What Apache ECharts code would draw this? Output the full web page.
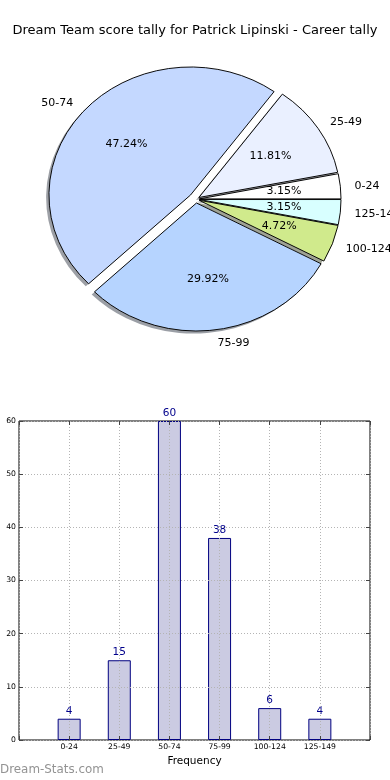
<!DOCTYPE html>
<html>
<head>
<meta charset="utf-8">
<script src="https://cdn.jsdelivr.net/npm/echarts@6/dist/echarts.min.js"></script>
<style>
html,body{margin:0;padding:0;background:#fff;}
#chart{width:390px;height:780px;}
</style>
</head>
<body>
<div id="chart"></div>
<script>
const titleText = 'Dream Team score tally for Patrick Lipinski - Career tally';
const categories = ['0-24', '25-49', '50-74', '75-99', '100-124', '125-149'];
const frequencies = [4, 15, 60, 38, 6, 4];
const pieColors = ['#ffffff', '#eaf0ff', '#c4d8ff', '#b6d4ff', '#d0ea8c', '#d8ffff'];
const explode = [0.025, 0.025, 0.05, 0.03, 0.025, 0.025];
const xAxisName = 'Frequency';
const watermark = 'Dream-Stats.com';

const FONT = 'DejaVu Sans';
const total = frequencies.reduce((a, b) => a + b, 0);
const starts = [];
(function () { let acc = 0; frequencies.forEach(v => { starts.push(acc); acc += v; }); })();
const PC = { x: 195.9, y: 199.2, a: 141.6, b: 128 };

function shade(hex) {
  const n = parseInt(hex.slice(1), 16);
  const r = Math.round(((n >> 16) & 255) * 0.3), g = Math.round(((n >> 8) & 255) * 0.3), b = Math.round((n & 255) * 0.3);
  return 'rgba(' + r + ',' + g + ',' + b + ',0.5)';
}

function renderPie(params, api) {
  const i = params.dataIndex;
  const v = api.value(0);
  const t1 = starts[i] / total * 2 * Math.PI;
  const t2 = (starts[i] + v) / total * 2 * Math.PI;
  const mid = (t1 + t2) / 2;
  const e = explode[i];
  const cx = PC.x + e * PC.a * Math.cos(mid);
  const cy = PC.y - e * PC.b * Math.sin(mid);
  const sy = PC.b / PC.a;
  const shape = { cx: 0, cy: 0, r: PC.a, r0: 0, startAngle: -t2, endAngle: -t1, clockwise: true };
  const c = Math.cos(mid), s = Math.sin(mid);
  return {
    type: 'group',
    children: [
      { type: 'sector', x: cx - 0.02 * PC.a, y: cy + 0.02 * PC.b, scaleY: sy, shape: shape,
        style: { fill: shade(pieColors[i]) }, z2: 1 },
      { type: 'sector', x: cx, y: cy, scaleY: sy, shape: shape,
        style: { fill: pieColors[i], stroke: '#000', lineWidth: 1, strokeNoScale: true }, z2: 10 },
      { type: 'text', x: cx + 0.6 * PC.a * c, y: cy - 0.6 * PC.b * s, z2: 20,
        style: { text: (v / total * 100).toFixed(2) + '%', align: 'center', verticalAlign: 'middle',
                 fontFamily: FONT, fontSize: 11, fill: '#000' } },
      { type: 'text', x: cx + 1.1 * PC.a * c, y: cy - 1.1 * PC.b * s + 1, z2: 20,
        style: { text: categories[i], align: c > 0 ? 'left' : 'right', verticalAlign: 'middle',
                 fontFamily: FONT, fontSize: 11, fill: '#000' } }
    ]
  };
}

const chart = echarts.init(document.getElementById('chart'), null, { renderer: 'canvas' });
const dotted = { color: '#b4b4b4', width: 1, type: [1, 2] };
const tick = { show: true, inside: true, length: 4, lineStyle: { color: '#444' } };
const option = {
  animation: false,
  backgroundColor: '#fff',
  title: {
    text: titleText, left: 'center', top: 19,
    textStyle: { fontFamily: FONT, fontSize: 13, fontWeight: 'normal', color: '#000' }
  },
  graphic: [{
    type: 'text', left: 0, top: 764,
    style: { text: watermark, fontFamily: FONT, fontSize: 11.9, fontWeight: 'normal', fill: '#939393' }
  }],
  grid: { left: 19, right: 20, top: 421, bottom: 40, show: true, borderColor: '#000', borderWidth: 1, backgroundColor: 'transparent' },
  xAxis: [{
    type: 'value', min: -1, max: 6, interval: 1, z: 3,
    axisLine: { show: false, onZero: false },
    axisTick: tick,
    axisLabel: { formatter: v => (categories[v] !== undefined ? categories[v] : ''), fontFamily: FONT, fontSize: 7.7, color: '#000', margin: 3 },
    splitLine: { show: true, lineStyle: dotted },
    name: xAxisName, nameLocation: 'middle', nameGap: 16,
    nameTextStyle: { fontFamily: FONT, fontSize: 10.5, color: '#000' }
  }, {
    type: 'value', min: -1, max: 6, interval: 1, position: 'top', z: 3,
    axisLine: { show: false, onZero: false },
    axisTick: tick,
    axisLabel: { show: false }, splitLine: { show: false }
  }],
  yAxis: [{
    type: 'value', min: 0, max: 60, interval: 10, z: 3,
    axisLine: { show: false, onZero: false },
    axisTick: tick,
    axisLabel: { fontFamily: FONT, fontSize: 7.7, color: '#000', margin: 3 },
    splitLine: { show: true, lineStyle: dotted }
  }, {
    type: 'value', min: 0, max: 60, interval: 10, position: 'right', z: 3,
    axisLine: { show: false, onZero: false },
    axisTick: tick,
    axisLabel: { show: false }, splitLine: { show: false }
  }],
  series: [{
    type: 'custom', coordinateSystem: 'none', renderItem: renderPie,
    data: frequencies.map(v => [v]), clip: false, silent: true
  }, {
    type: 'bar', xAxisIndex: 0, yAxisIndex: 0, barWidth: 23,
    data: frequencies.map((v, i) => [i, v]),
    itemStyle: { color: '#cbcbe2', borderColor: '#000080', borderWidth: 1 },
    label: { show: true, position: 'top', distance: 2, color: '#00008b', fontFamily: FONT, fontSize: 10.5,
             formatter: p => String(p.value[1]) }
  }]
};
chart.setOption(option);
</script>
</body>
</html>
